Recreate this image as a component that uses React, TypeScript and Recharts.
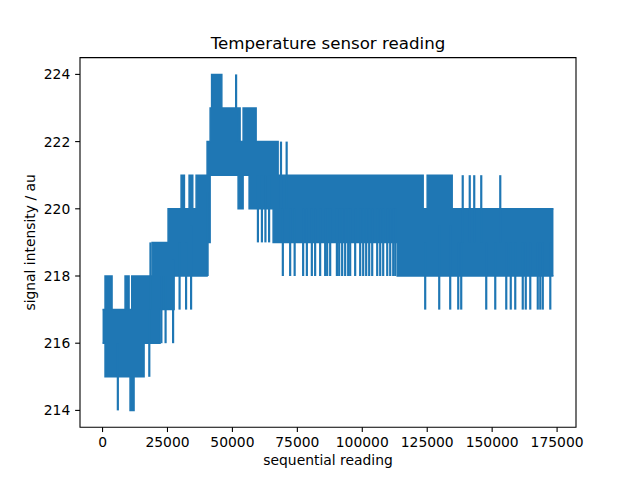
import React from "react";
import {
  ComposedChart,
  Area,
  XAxis,
  YAxis,
  ReferenceLine,
  ReferenceArea,
} from "recharts";

// Step envelope of the signal.
// Each entry holds from its reading index until the next one.
const bandStart = [
  0, 960, 3660, 8670, 10210, 10590, 11250, 12130, 15990, 19070, 22150, 25230,
  27550, 30240, 31520, 33320, 34730, 36020, 40250, 41420, 41990, 45920, 52190,
  52960, 54120, 56430, 59130, 65670, 67600, 113440, 123440, 124980, 134610,
  173600,
];
const bandLow = [
  216, 215, 215, 215, 215, 214, 214, 215, 216, 216, 217, 217, 218, 218, 218,
  218, 218, 218, 219, 221, 221, 221, 220, 220, 221, 220, 220, 219, 219, 218,
  218, 218, 218, 218,
];
const bandHigh = [
  217, 218, 217, 218, 217, 217, 218, 218, 218, 219, 219, 220, 220, 221, 220,
  221, 220, 221, 222, 223, 224, 223, 223, 222, 223, 223, 222, 222, 221, 221,
  220, 221, 220, 220,
];

// Single readings that jump outside the envelope
const spikeAt = [
  5890, 18000, 18450, 22650, 24270, 27160, 29660, 32160, 34090, 40450, 51420,
  59820, 61360, 62710, 64130, 68700, 70880,
  69410, 72230, 73960, 77230, 78660, 80580, 81850, 83780, 85710, 86480, 87640,
  90220, 91100, 92250, 93410, 94570, 95340, 97260, 99190, 100350, 101500,
  102660, 103820, 105740, 106900, 108050, 109600, 110750, 111910, 112680,
  124220, 129620, 133850, 136940, 138090, 147720, 151190, 155430, 157160,
  158890, 161780, 162940, 164670, 167560, 168520, 169490, 172380,
  138670, 141370, 143100, 145800, 153120,
];
const spikeTo = [
  214, 215, 219, 216, 216, 216, 217, 217, 217, 218, 224,
  219, 219, 219, 219, 222, 222,
  218, 218, 218, 218, 218, 218, 218, 218, 218, 218, 218,
  218, 218, 218, 218, 218, 218, 218, 218, 218, 218,
  218, 218, 218, 218, 218, 218, 218, 218, 218,
  217, 217, 217, 217, 217, 217, 217, 217, 217,
  217, 217, 217, 217, 217, 217, 217, 217,
  221, 221, 221, 221, 221,
];

const xTicks = [0, 25000, 50000, 75000, 100000, 125000, 150000, 175000];
const yTicks = [214, 216, 218, 220, 222, 224];

const X_DOMAIN: [number, number] = [-8680, 182280];
const Y_DOMAIN: [number, number] = [213.5, 224.5];
const BLUE = "#1f77b4";
const FONT = "DejaVu Sans";

const bandData = bandStart.map((x, i) => ({
  x,
  band: [bandLow[i], bandHigh[i]],
}));

function bandMidAt(x: number) {
  let i = 0;
  while (i + 1 < bandStart.length && bandStart[i + 1] <= x) i++;
  return (bandLow[i] + bandHigh[i]) / 2;
}

const tickStyle = { fill: "#000", fontSize: 13.89, fontFamily: FONT };
const tickLineStyle = { stroke: "#000", strokeWidth: 1.1 };

export default function App() {
  return (
    <div
      style={{ position: "absolute", left: 0, top: 0, width: 640, height: 480, background: "#fff" }}
    >
      <ComposedChart
        width={640}
        height={480}
        data={bandData}
        margin={{ top: 57.6, right: 64, bottom: 0, left: 0 }}
      >
        <XAxis
          dataKey="x"
          type="number"
          domain={X_DOMAIN}
          allowDataOverflow
          ticks={xTicks}
          interval={0}
          height={52.8}
          axisLine={false}
          tickLine={tickLineStyle}
          tickSize={4.86}
          tickMargin={4.86}
          tick={tickStyle}
        />
        <YAxis
          type="number"
          domain={Y_DOMAIN}
          allowDataOverflow
          ticks={yTicks}
          interval={0}
          width={80}
          axisLine={false}
          tickLine={tickLineStyle}
          tickSize={4.86}
          tickMargin={4.86}
          tick={tickStyle}
        />
        <Area
          dataKey="band"
          type="stepAfter"
          stroke={BLUE}
          strokeWidth={1.5}
          fill={BLUE}
          fillOpacity={1}
          dot={false}
          activeDot={false}
          isAnimationActive={false}
        />
        {spikeAt.map((x, i) => (
          <ReferenceLine
            key={i}
            segment={[
              { x, y: spikeTo[i] },
              { x, y: bandMidAt(x) },
            ]}
            stroke={BLUE}
            strokeWidth={2.2}
          />
        ))}
        <ReferenceArea
          x1={X_DOMAIN[0]}
          x2={X_DOMAIN[1]}
          y1={Y_DOMAIN[0]}
          y2={Y_DOMAIN[1]}
          fill="none"
          fillOpacity={0}
          stroke="#000"
          strokeWidth={1.1}
        />
      </ComposedChart>
      <svg
        width={640}
        height={480}
        style={{ position: "absolute", left: 0, top: 0, pointerEvents: "none" }}
        fontFamily={FONT}
      >
        <text x={328} y={49.3} textAnchor="middle" fontSize={16.67} fill="#000">
          Temperature sensor reading
        </text>
        <text x={328} y={465} textAnchor="middle" fontSize={13.89} fill="#000">
          sequential reading
        </text>
        <text
          x={0}
          y={0}
          transform="translate(35, 242.4) rotate(-90)"
          textAnchor="middle"
          fontSize={13.89}
          fill="#000"
        >
          signal intensity / au
        </text>
      </svg>
    </div>
  );
}
